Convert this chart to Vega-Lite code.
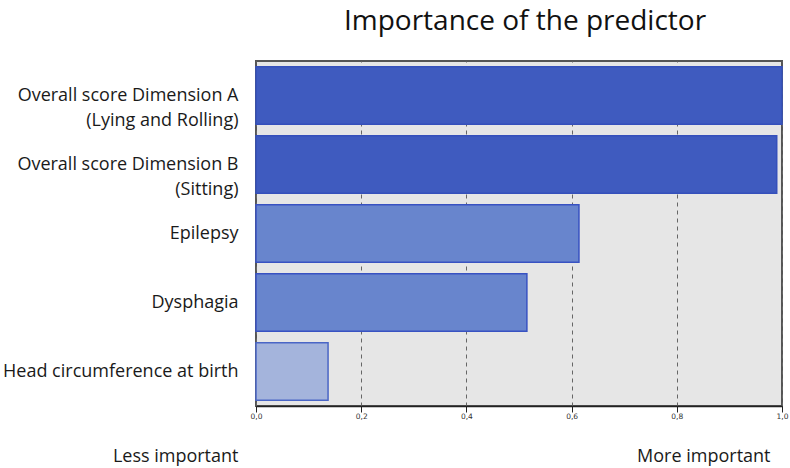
{
  "$schema": "https://vega.github.io/schema/vega-lite/v6.json",
  "width": 526,
  "height": 345,
  "autosize": {"type": "none"},
  "padding": {"left": 256, "top": 61, "right": 8, "bottom": 62},
  "background": "white",
  "title": {
    "text": "Importance of the predictor",
    "font": "Open Sans",
    "fontSize": 28,
    "fontWeight": "normal",
    "color": "#111111",
    "anchor": "middle",
    "frame": "group",
    "dx": 6,
    "offset": 25
  },
  "config": {
    "view": {"fill": "#e6e6e6", "stroke": "#555555", "strokeWidth": 2}
  },
  "data": {
    "values": [
      {"predictor": "Overall score Dimension A|(Lying and Rolling)", "importance": 1.0, "level": "high"},
      {"predictor": "Overall score Dimension B|(Sitting)", "importance": 0.99, "level": "high"},
      {"predictor": "Epilepsy", "importance": 0.614, "level": "mid"},
      {"predictor": "Dysphagia", "importance": 0.515, "level": "mid"},
      {"predictor": "Head circumference at birth", "importance": 0.137, "level": "low"}
    ]
  },
  "mark": {"type": "bar", "strokeWidth": 1.5},
  "encoding": {
    "y": {
      "field": "predictor",
      "type": "nominal",
      "sort": null,
      "scale": {"paddingInner": 0.17, "paddingOuter": 0.085},
      "axis": {
        "labelExpr": "split(datum.label, '|')",
        "labelFont": "Open Sans",
        "labelFontSize": 18,
        "labelColor": "#1a1a1a",
        "labelLineHeight": 25,
        "labelPadding": 18,
        "labelLimit": 300,
        "ticks": false,
        "domain": false,
        "title": "More important",
        "titleFont": "Open Sans",
        "titleFontSize": 18,
        "titleFontWeight": "normal",
        "titleColor": "#1a1a1a",
        "titleAngle": 0,
        "titleAlign": "right",
        "titleBaseline": "alphabetic",
        "titleX": 514,
        "titleY": 400
      }
    },
    "x": {
      "field": "importance",
      "type": "quantitative",
      "scale": {"domain": [0, 1], "nice": false},
      "axis": {
        "values": [0, 0.2, 0.4, 0.6, 0.8, 1.0],
        "labelExpr": "replace(format(datum.value, '.1f'), '.', ',')",
        "labelFont": "DejaVu Sans",
        "labelFontSize": 7.5,
        "labelColor": "#333333",
        "labelPadding": 0,
        "labelFlush": false,
        "tickColor": "#222222",
        "tickSize": 6,
        "domainColor": "#222222",
        "domainWidth": 1.5,
        "grid": true,
        "gridColor": "#666666",
        "gridDash": [4, 4],
        "gridWidth": 1,
        "title": "Less important",
        "titleFont": "Open Sans",
        "titleFontSize": 18,
        "titleFontWeight": "normal",
        "titleColor": "#1a1a1a",
        "titleAlign": "right",
        "titleBaseline": "alphabetic",
        "titleX": -18,
        "titleY": 55
      }
    },
    "color": {
      "field": "level",
      "type": "nominal",
      "legend": null,
      "scale": {"domain": ["high", "mid", "low"], "range": ["#3f5bbf", "#6885cd", "#a4b4dc"]}
    },
    "stroke": {
      "field": "level",
      "type": "nominal",
      "legend": null,
      "scale": {"domain": ["high", "mid", "low"], "range": ["#3550bb", "#3852c2", "#4a66c6"]}
    }
  }
}
